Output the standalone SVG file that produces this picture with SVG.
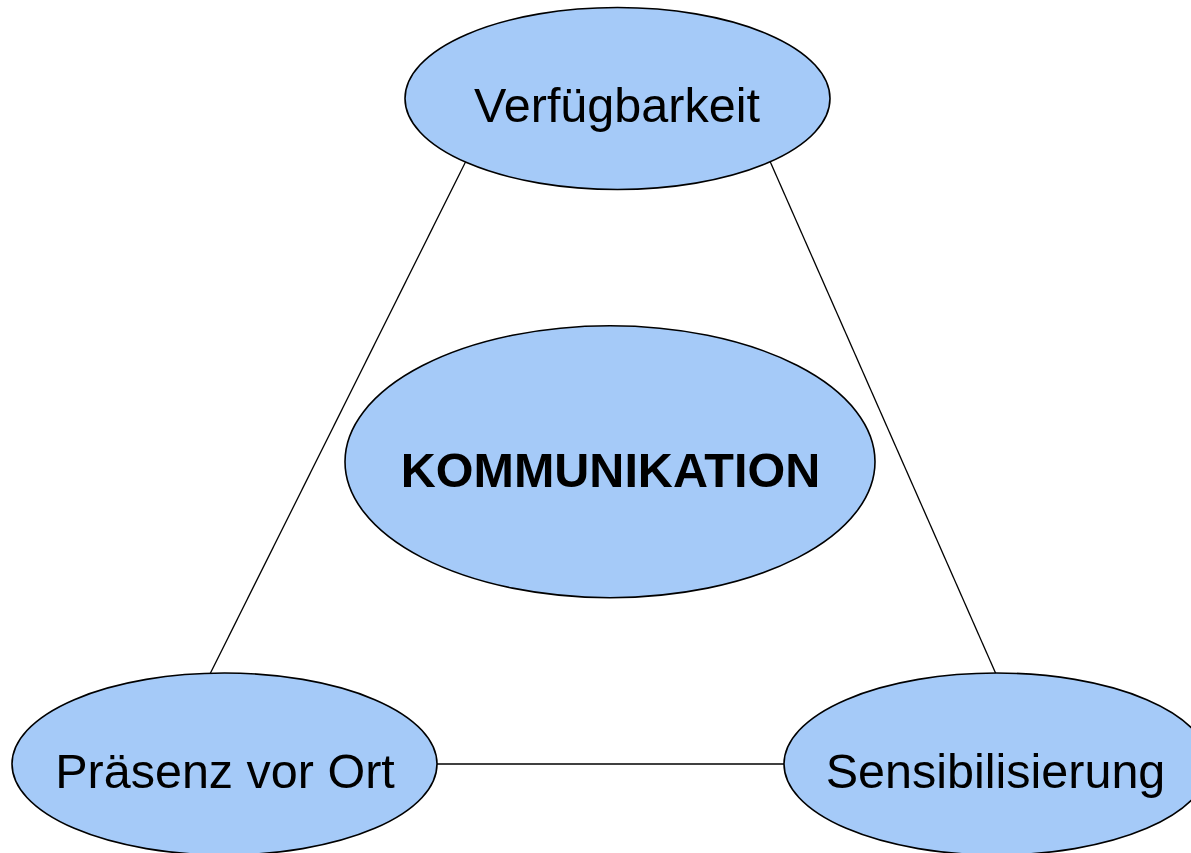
<svg xmlns="http://www.w3.org/2000/svg" width="1191" height="853" viewBox="0 0 1191 853">
<style>
.node{fill:#A5CAF8;stroke:#000;stroke-width:1.6}
.lbl{font-family:"Liberation Sans",Arial,sans-serif;font-size:48.5px;fill:#000;text-anchor:middle}
.bold{font-weight:bold}
.conn{stroke:#000;stroke-width:1.3;fill:none}
</style>
<rect width="1191" height="853" fill="#fff"/>
<g id="connectors">
<line class="conn" x1="467" y1="159" x2="210" y2="674"/>
<line class="conn" x1="769" y1="159" x2="996" y2="674"/>
<line class="conn" x1="437" y1="764" x2="784" y2="764"/>
</g>
<g id="verfuegbarkeit">
<ellipse class="node" cx="617.5" cy="98.5" rx="212.5" ry="91"/>
<text class="lbl" x="617" y="122">Verfügbarkeit</text>
</g>
<g id="kommunikation">
<ellipse class="node" cx="610" cy="461.7" rx="265" ry="136"/>
<text class="lbl bold" x="610.5" y="487">KOMMUNIKATION</text>
</g>
<g id="praesenz">
<ellipse class="node" cx="224.5" cy="764" rx="212.5" ry="91"/>
<text class="lbl" x="225" y="788">Präsenz vor Ort</text>
</g>
<g id="sensibilisierung">
<ellipse class="node" cx="996.5" cy="764" rx="212.5" ry="91"/>
<text class="lbl" x="995.5" y="788">Sensibilisierung</text>
</g>
</svg>
